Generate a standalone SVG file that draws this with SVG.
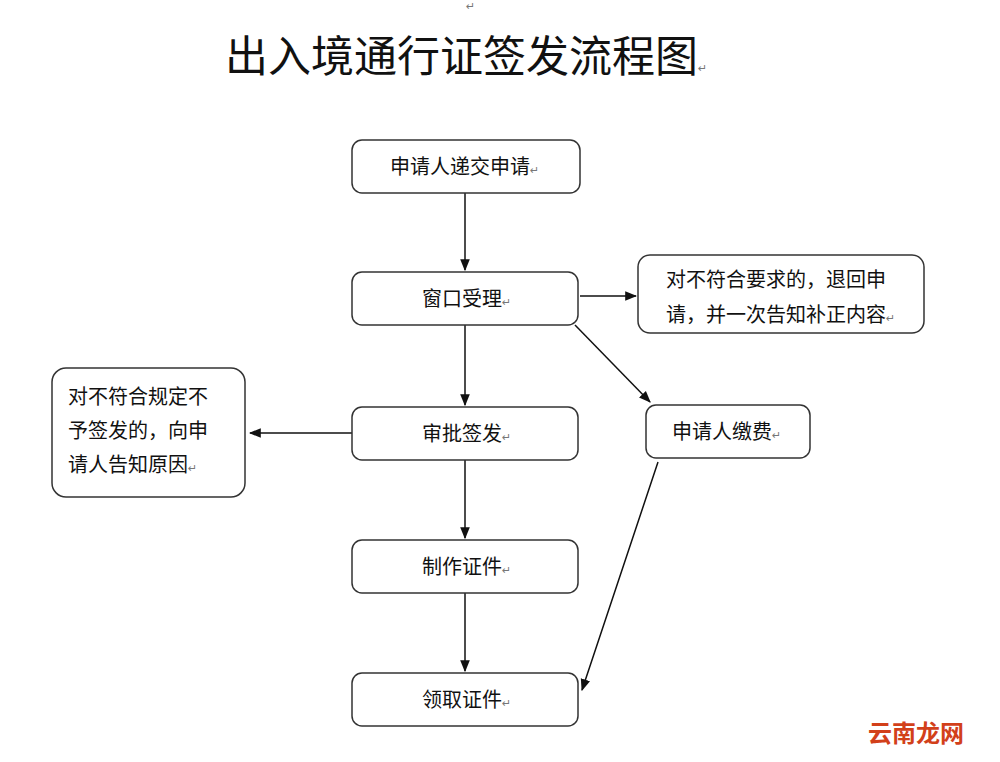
<svg xmlns="http://www.w3.org/2000/svg" width="1000" height="762" viewBox="0 0 1000 762">
<defs>
<style>
.box{fill:#fff;stroke:#333;stroke-width:1.5}
.t{font-family:"Noto Sans CJK SC",sans-serif;font-size:20px;fill:#111}
.r{font-family:"DejaVu Sans",sans-serif;font-size:11px;fill:#777}
.c{stroke:#111;stroke-width:1.5;fill:none;marker-end:url(#a)}
</style>
<marker id="a" viewBox="0 0 10 10" refX="9" refY="5" markerWidth="8" markerHeight="8" orient="auto"><path d="M0,1 L10,5 L0,9 z" fill="#111"/></marker>
</defs>
<rect width="1000" height="762" fill="#fff"/>
<g id="title">
<text x="225" y="72" font-family="Noto Sans CJK SC,sans-serif" font-size="43" fill="#111">出入境通行证签发流程图<tspan class="r">↵</tspan></text>
<text x="466" y="10" class="r">↵</text>
</g>
<g id="connectors">
<line class="c" x1="465" y1="193" x2="465" y2="270"/>
<line class="c" x1="580" y1="296" x2="636" y2="296"/>
<line class="c" x1="575" y1="325" x2="650" y2="402"/>
<line class="c" x1="465" y1="325" x2="465" y2="405"/>
<line class="c" x1="352" y1="433" x2="250" y2="433"/>
<line class="c" x1="465" y1="460" x2="465" y2="538"/>
<line class="c" x1="465" y1="593" x2="465" y2="671"/>
<line class="c" x1="658" y1="462" x2="582" y2="690"/>
</g>
<g id="n1"><rect class="box" x="352" y="140" width="228" height="53" rx="10"/><text class="t" x="390" y="174">申请人递交申请<tspan class="r">↵</tspan></text></g>
<g id="n2"><rect class="box" x="352" y="272" width="226" height="53" rx="10"/><text class="t" x="422" y="306">窗口受理<tspan class="r">↵</tspan></text></g>
<g id="n3"><rect class="box" x="352" y="407" width="226" height="53" rx="10"/><text class="t" x="422" y="441">审批签发<tspan class="r">↵</tspan></text></g>
<g id="n4"><rect class="box" x="352" y="540" width="226" height="53" rx="10"/><text class="t" x="422" y="574">制作证件<tspan class="r">↵</tspan></text></g>
<g id="n5"><rect class="box" x="352" y="673" width="226" height="53" rx="10"/><text class="t" x="422" y="707">领取证件<tspan class="r">↵</tspan></text></g>
<g id="n6"><rect class="box" x="638" y="255" width="286" height="78" rx="12"/><text class="t" x="666" y="287">对不符合要求的，退回申</text><text class="t" x="666" y="322">请，并一次告知补正内容<tspan class="r">↵</tspan></text></g>
<g id="n7"><rect class="box" x="646" y="405" width="164" height="53" rx="10"/><text class="t" x="672" y="439">申请人缴费<tspan class="r">↵</tspan></text></g>
<g id="n8"><rect class="box" x="52" y="368" width="193" height="129" rx="14"/><text class="t" x="68" y="404">对不符合规定不</text><text class="t" x="68" y="438">予签发的，向申</text><text class="t" x="68" y="472">请人告知原因<tspan class="r">↵</tspan></text></g>
<text x="868" y="742" font-family="Noto Sans CJK SC,sans-serif" font-size="24" font-weight="bold" fill="#d2401a">云南龙网</text>
</svg>
